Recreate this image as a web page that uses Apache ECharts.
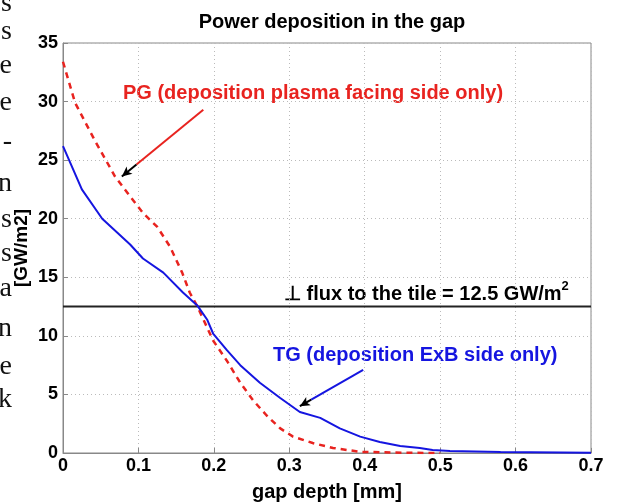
<!DOCTYPE html>
<html>
<head>
<meta charset="utf-8">
<script src="https://cdn.jsdelivr.net/npm/echarts@6/dist/echarts.min.js"></script>
<style>
  html,body{margin:0;padding:0;background:#fff;}
  #main{width:622px;height:504px;}
</style>
</head>
<body>
<div id="main"></div>
<script>
// PG curve (red dashed)
var pgDepth = [0, 0.016, 0.042, 0.069, 0.089, 0.106, 0.125, 0.142, 0.158, 0.168, 0.179, 0.199, 0.217, 0.235, 0.252, 0.27, 0.288, 0.305, 0.331, 0.358, 0.394, 0.45, 0.5];
var pgPower = [33.4, 29.9, 26.7, 23.6, 21.9, 20.5, 19.3, 17.6, 15.4, 13.7, 12.4, 9.6, 7.9, 6.0, 4.5, 3.2, 2.1, 1.4, 0.85, 0.43, 0.1, 0.02, 0];
// TG curve (blue)
var tgDepth = [0, 0.025, 0.052, 0.089, 0.106, 0.133, 0.159, 0.178, 0.191, 0.199, 0.217, 0.235, 0.261, 0.288, 0.314, 0.341, 0.367, 0.394, 0.42, 0.447, 0.473, 0.49, 0.513, 0.58, 0.7];
var tgPower = [26.2, 22.5, 20.0, 17.8, 16.6, 15.4, 13.7, 12.6, 11.4, 10.2, 8.8, 7.5, 6.0, 4.7, 3.5, 3.0, 2.1, 1.4, 0.94, 0.6, 0.43, 0.26, 0.17, 0.09, 0.02];
var fluxLevel = 12.5;
var depthRange = [0, 0.7];
// arrows: [from, to] in data coords
var pgArrow = [[0.186, 29.3], [0.078, 23.6]];
var tgArrow = [[0.398, 7.1], [0.314, 4.0]];
// clipped text of the page on the left
var sideLetters = ['s', 's', 'e', 'e', '-', 'n', 's', 's', 'a', 'n', 'e', 'k'];
var sideY = [8, 36, 70, 107, 146, 188, 224, 258, 293, 333, 371, 404];

function zip(a, b) {
    return a.map(function (v, i) { return [v, b[i]]; });
}

// short black head at the end of an arrow
function headPart(arr) {
    var f = arr[0], t = arr[1];
    var k = 0.18;
    return [[t[0] + (f[0] - t[0]) * k, t[1] + (f[1] - t[1]) * k], t];
}

function arrowLines(arr, color) {
    var h = headPart(arr);
    return {
        silent: true,
        animation: false,
        label: {show: false},
        data: [
            [{coord: arr[0], symbol: 'none', lineStyle: {color: color, width: 2, type: 'solid'}},
             {coord: h[0], symbol: 'none'}],
            [{coord: h[0], symbol: 'none', lineStyle: {color: '#000', width: 2, type: 'solid'}},
             {coord: h[1], symbol: 'arrow', symbolSize: [7, 10]}]
        ]
    };
}

var font = 'Liberation Sans, Arial, sans-serif';

var graphics = sideLetters.map(function (ch, i) {
    return {
        type: 'text',
        right: 622 - 12,
        top: sideY[i] - 18,
        style: {
            text: ch,
            font: '28px "Liberation Serif", "Times New Roman", serif',
            fill: '#111'
        }
    };
});
graphics.push({
    type: 'text', left: 123, top: 83,
    style: {text: 'PG (deposition plasma facing side only)', font: 'bold 20px ' + font, fill: '#e8231f'}
});
graphics.push({
    type: 'text', left: 273, top: 345,
    style: {text: 'TG (deposition ExB side only)', font: 'bold 20px ' + font, fill: '#1515e0'}
});
graphics.push({
    type: 'text', left: 284, top: 280,
    style: {
        text: '{a|\u22A5 flux to the tile = 12.5 GW/m}{s|2}',
        rich: {
            a: {fontFamily: font, fontSize: 20, fontWeight: 'bold', fill: '#000', color: '#000', verticalAlign: 'bottom', lineHeight: 24},
            s: {fontFamily: font, fontSize: 13, fontWeight: 'bold', fill: '#000', color: '#000', verticalAlign: 'top', lineHeight: 24}
        }
    }
});

var chart = echarts.init(document.getElementById('main'));

var option = {
    animation: false,
    backgroundColor: '#fff',
    title: {
        text: 'Power deposition in the gap',
        left: 327,
        textAlign: 'center',
        top: 7,
        textStyle: {fontFamily: font, fontSize: 20, fontWeight: 'bold', color: '#000'}
    },
    grid: {
        left: 63, right: 31, top: 43, bottom: 51,
        outerBoundsMode: 'none',
        containLabel: false,
        show: true, borderColor: '#888', borderWidth: 1
    },
    xAxis: {
        type: 'value',
        min: depthRange[0], max: depthRange[1], interval: 0.1,
        name: 'gap depth [mm]',
        nameLocation: 'middle',
        nameGap: 29,
        nameMoveOverlap: false,
        nameTextStyle: {fontFamily: font, fontSize: 20, fontWeight: 'bold', color: '#000'},
        axisLine: {lineStyle: {color: '#888'}},
        axisTick: {inside: true, length: 5, lineStyle: {color: '#888'}},
        axisLabel: {fontFamily: font, fontSize: 18, fontWeight: 'bold', color: '#000', margin: 4},
        splitLine: {show: true, lineStyle: {color: '#bbb', type: [1, 3]}}
    },
    yAxis: {
        type: 'value',
        min: 0, max: 35, interval: 5,
        name: '[GW/m2]',
        nameLocation: 'middle',
        nameGap: 32,
        nameMoveOverlap: false,
        nameTextStyle: {fontFamily: font, fontSize: 19, fontWeight: 'bold', color: '#000'},
        axisLine: {show: true, lineStyle: {color: '#888'}},
        axisTick: {show: true, inside: true, length: 5, lineStyle: {color: '#888'}},
        axisLabel: {fontFamily: font, fontSize: 18, fontWeight: 'bold', color: '#000', margin: 5},
        splitLine: {show: true, lineStyle: {color: '#bbb', type: [1, 3]}}
    },
    series: [
        {
            name: 'flux',
            type: 'line',
            data: [[depthRange[0], fluxLevel], [depthRange[1], fluxLevel]],
            symbol: 'none',
            lineStyle: {color: '#222', width: 2}
        },
        {
            name: 'PG',
            type: 'line',
            data: zip(pgDepth, pgPower),
            symbol: 'none',
            lineStyle: {color: '#e8231f', width: 2.5, type: [6, 5]},
            markLine: arrowLines(pgArrow, '#e8231f')
        },
        {
            name: 'TG',
            type: 'line',
            data: zip(tgDepth, tgPower),
            symbol: 'none',
            lineStyle: {color: '#1515e0', width: 2},
            markLine: arrowLines(tgArrow, '#1515e0')
        }
    ],
    graphic: graphics
};

chart.setOption(option);
</script>
</body>
</html>
